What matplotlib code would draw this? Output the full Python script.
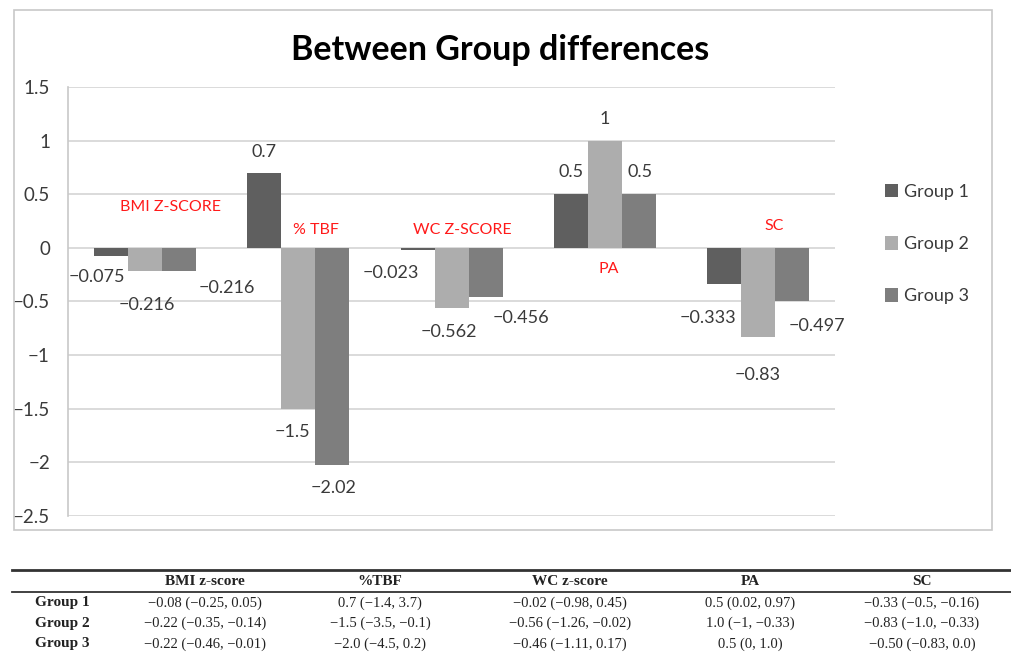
import matplotlib
matplotlib.use("Agg")
import matplotlib.pyplot as plt
from matplotlib.patches import Rectangle
from matplotlib.lines import Line2D

# chart data
categories = ["BMI Z-SCORE", "% TBF", "WC Z-SCORE", "PA", "SC"]
groups = ["Group 1", "Group 2", "Group 3"]
group1 = [-0.075, 0.7, -0.023, 0.5, -0.333]
group2 = [-0.216, -1.5, -0.562, 1, -0.83]
group3 = [-0.216, -2.02, -0.456, 0.5, -0.497]
value_labels = [
    ["\u22120.075", "0.7", "\u22120.023", "0.5", "\u22120.333"],
    ["\u22120.216", "\u22121.5", "\u22120.562", "1", "\u22120.83"],
    ["\u22120.216", "\u22122.02", "\u22120.456", "0.5", "\u22120.497"],
]

# table data
table_cols = ["BMI z-score", "%TBF", "WC z-score", "PA", "SC"]
table_rows = ["Group 1", "Group 2", "Group 3"]
table_vals = [
    ["\u22120.08 (\u22120.25, 0.05)", "0.7 (\u22121.4, 3.7)", "\u22120.02 (\u22120.98, 0.45)",
     "0.5 (0.02, 0.97)", "\u22120.33 (\u22120.5, \u22120.16)"],
    ["\u22120.22 (\u22120.35, \u22120.14)", "\u22121.5 (\u22123.5, \u22120.1)", "\u22120.56 (\u22121.26, \u22120.02)",
     "1.0 (\u22121, \u22120.33)", "\u22120.83 (\u22121.0, \u22120.33)"],
    ["\u22120.22 (\u22120.46, \u22120.01)", "\u22122.0 (\u22124.5, 0.2)", "\u22120.46 (\u22121.11, 0.17)",
     "0.5 (0, 1.0)", "\u22120.50 (\u22120.83, 0.0)"],
]

# styling / placement (hand-placed labels like the Excel original)
colors = ["#5f5f5f", "#adadad", "#7e7e7e"]
label_offsets = [  # pixel offsets from bar end
    [(-14, -21), (0, 21), (-27, -23), (0, 22), (-16, -34)],
    [(2, -34), (-6, -23), (-3, -24), (0, 22), (-1, -38)],
    [(48, -17), (1, -23), (35, -21), (1, 22), (25, -25)],
]
cat_label_pos = [(0.165, 0.38), (0.117, 0.17), (0.068, 0.17), (0.027, -0.2), (0.102, 0.2)]

plt.rcParams['font.family'] = ['Lato', 'DejaVu Sans']

fig = plt.figure(figsize=(10.11, 6.53), dpi=100)
fig.patch.set_facecolor("white")

# outer chart frame
fig.patches.append(Rectangle((0.0138, 0.1884), 0.9674, 0.7963, transform=fig.transFigure,
                             fill=False, edgecolor="#c8c8c8", lw=1.2))

ax = fig.add_axes([0.0673, 0.2098, 0.7587, 0.6570])
width = 0.2216
x = list(range(len(categories)))
series = [group1, group2, group3]
bars = []
for k, vals in enumerate(series):
    xs = [i + (k - 1) * width for i in x]
    b = ax.bar(xs, vals, width, color=colors[k], label=groups[k], zorder=3)
    bars.append(b)
    for i, v in enumerate(vals):
        dx, dy = label_offsets[k][i]
        ax.annotate(value_labels[k][i], xy=(xs[i], v), xytext=(dx, dy),
                    textcoords="offset pixels", ha="center", va="center",
                    fontsize=13, color="#3a3a3a", zorder=4)

for i, cat in enumerate(categories):
    ox, oy = cat_label_pos[i]
    ax.text(i + ox, oy, cat, color="#ff1a1a", fontsize=11.5, ha="center", va="center", zorder=4)

ax.set_xlim(-0.5, 4.5)
ax.set_ylim(-2.5, 1.5)
ax.set_yticks([1.5, 1, 0.5, 0, -0.5, -1, -1.5, -2, -2.5])
ax.set_yticklabels(["1.5", "1", "0.5", "0", "\u22120.5", "\u22121", "\u22121.5", "\u22122", "\u22122.5"])
ax.tick_params(axis="y", length=0, pad=13, labelsize=13.5, labelcolor="#3a3a3a")
ax.set_xticks([])
ax.yaxis.grid(True, color="#d4d4d4", lw=1.2, zorder=0)
for s in ["top", "right", "bottom"]:
    ax.spines[s].set_visible(False)
ax.spines["left"].set_color("#c8c8c8")
ax.spines["left"].set_linewidth(1.2)

fig.text(0.4946, 0.923, "Between Group differences", ha="center", va="center",
         fontsize=24.5, fontweight="bold", color="black")

fig.legend(handles=bars, labels=groups, loc="center left", bbox_to_anchor=(0.859, 0.626),
           frameon=False, fontsize=13, handlelength=0.75, handleheight=0.75,
           handletextpad=0.3, labelspacing=2.0, labelcolor="#3a3a3a")

# table below the chart
serif = ["Liberation Serif", "DejaVu Serif"]
col_x = [0.203, 0.376, 0.564, 0.742, 0.912]
row_y = [0.0766, 0.0459, 0.0138]
fig.add_artist(Line2D([0.012, 1.0], [0.1271, 0.1271], transform=fig.transFigure, color="#333333", lw=2))
fig.add_artist(Line2D([0.012, 1.0], [0.0934, 0.0934], transform=fig.transFigure, color="#333333", lw=1.3))
for j, c in enumerate(table_cols):
    fig.text(col_x[j], 0.1095, c, ha="center", va="center", fontsize=11,
             fontweight="bold", family=serif, color="#222222")
for r, name in enumerate(table_rows):
    fig.text(0.0346, row_y[r], name, ha="left", va="center", fontsize=11,
             fontweight="bold", family=serif, color="#222222")
    for j in range(len(table_cols)):
        fig.text(col_x[j], row_y[r], table_vals[r][j], ha="center", va="center",
                 fontsize=10.5, family=serif, color="#222222")

fig.savefig("out.png", dpi=100, facecolor="white")
